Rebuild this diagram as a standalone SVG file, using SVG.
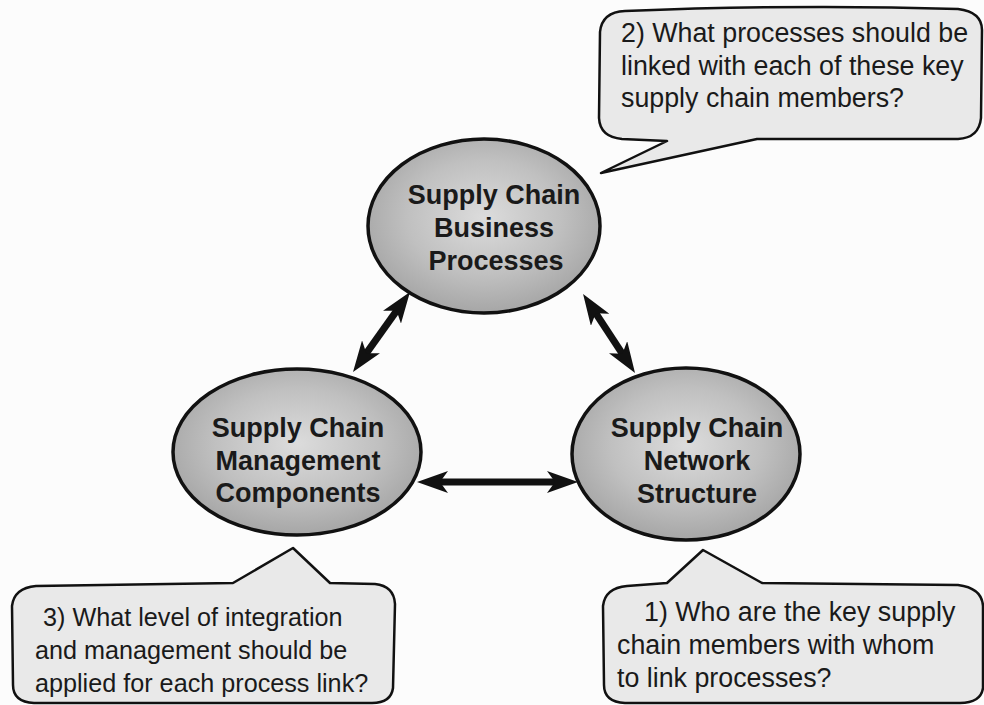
<svg xmlns="http://www.w3.org/2000/svg" width="984" height="705" viewBox="0 0 984 705">
<defs>
<style>
.ell{stroke:#111;stroke-width:3.5;fill:url(#eg)}
.lbl{font-family:"Liberation Sans",Arial,sans-serif;font-weight:bold;font-size:27px;fill:#1a1a1a;text-anchor:middle}
.call{fill:#e9e9e9;stroke:#111;stroke-width:2.5;stroke-linejoin:round}
.ct{font-family:"Liberation Sans",Arial,sans-serif;font-size:26.8px;fill:#1a1a1a}
.ct3{font-size:25.2px}
.arr{stroke:#111;stroke-width:7;marker-start:url(#ah);marker-end:url(#ah)}
</style>
<radialGradient id="eg" cx="50%" cy="45%" r="55%">
<stop offset="0" stop-color="#dcdcdc"/>
<stop offset="0.6" stop-color="#c0c0c0"/>
<stop offset="1" stop-color="#a6a6a6"/>
</radialGradient>
<marker id="ah" markerUnits="userSpaceOnUse" markerWidth="31" markerHeight="22" viewBox="0 0 31 22" refX="10" refY="11" orient="auto-start-reverse">
<path d="M0,0 L31,11 L0,22 L8,11 Z" fill="#111"/>
</marker>
</defs>
<rect width="984" height="705" fill="#fcfcfc"/>

<g id="callout2">
<path class="call" d="M667,141 L622,139 Q600,137 599,118 L600,32 Q602,12 625,11 Q800,4 958,9 Q982,12 982,30 L981,118 Q979,138 958,139 L757,139 L601,173 Z"/>
<text class="ct" x="621" y="42">2) What processes should be</text>
<text class="ct" x="621" y="75">linked with each of these key</text>
<text class="ct" x="621" y="107">supply chain members?</text>
</g>

<g id="callout3">
<path class="call" d="M233,583 L293,548 L330,583 L375,584 Q394,586 395,604 L393,688 Q391,703 372,703 L34,703 Q13,702 13,685 L12,606 Q14,588 36,586 Z"/>
<text class="ct ct3" x="43" y="626">3) What level of integration</text>
<text class="ct ct3" x="35" y="659">and management should be</text>
<text class="ct ct3" x="35" y="692">applied for each process link?</text>
</g>

<g id="callout1">
<path class="call" d="M667,583 L703,550 L762,583 L958,585 Q982,588 983,606 L983,688 Q981,703 960,703 L625,703 Q604,702 604,685 L603,606 Q605,588 627,586 Z"/>
<text class="ct" x="644" y="621">1) Who are the key supply</text>
<text class="ct" x="617" y="654">chain members with whom</text>
<text class="ct" x="617" y="687">to link processes?</text>
</g>

<g id="connectors">
<line class="arr" x1="365.2" y1="354.9" x2="397.8" y2="309.1"/>
<line class="arr" x1="594.6" y1="311.5" x2="623.5" y2="355.5"/>
<line class="arr" x1="438" y1="482" x2="557" y2="482"/>
</g>

<g id="node-business">
<ellipse class="ell" cx="484" cy="226" rx="116" ry="87"/>
<text class="lbl" x="494" y="204">Supply Chain</text>
<text class="lbl" x="494" y="237">Business</text>
<text class="lbl" x="496" y="270">Processes</text>
</g>

<g id="node-management">
<ellipse class="ell" cx="297" cy="452" rx="124" ry="83"/>
<text class="lbl" x="298" y="437">Supply Chain</text>
<text class="lbl" x="298" y="470">Management</text>
<text class="lbl" x="298" y="502">Components</text>
</g>

<g id="node-network">
<ellipse class="ell" cx="686" cy="454" rx="114" ry="86"/>
<text class="lbl" x="697" y="437">Supply Chain</text>
<text class="lbl" x="697" y="470">Network</text>
<text class="lbl" x="697" y="503">Structure</text>
</g>
</svg>
